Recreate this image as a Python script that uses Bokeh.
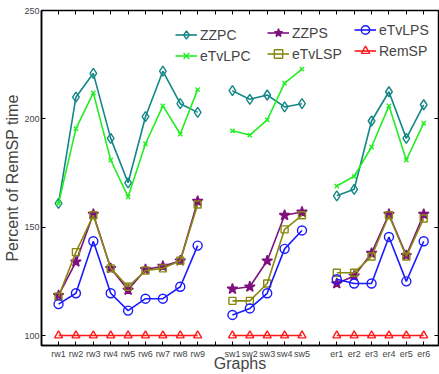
import numpy as np
from bokeh.plotting import figure
from bokeh.models import (FixedTicker, LinearAxis, Legend, LegendItem, Range1d)
from bokeh.embed import file_html
from bokeh.resources import INLINE

# ---- data ----
rw_labels = ["rw1", "rw2", "rw3", "rw4", "rw5", "rw6", "rw7", "rw8", "rw9"]
sw_labels = ["sw1", "sw2", "sw3", "sw4", "sw5"]
er_labels = ["er1", "er2", "er3", "er4", "er5", "er6"]

ZZPC_rw = [161, 210, 221, 191, 170.5, 201, 222, 207, 203]
ZZPC_sw = [213, 209, 211, 205.5, 207]
ZZPC_er = [164.5, 167.5, 199, 212.5, 191, 206.5]

eTvLPC_rw = [161, 195.5, 212, 181, 164, 188.5, 206, 193, 213.5]
eTvLPC_sw = [194.5, 192.5, 199.5, 216.5, 223]
eTvLPC_er = [169, 173.5, 187, 206, 181, 198]

ZZPS_rw = [118.5, 134, 156, 131, 121, 130.5, 132, 134.5, 162]
ZZPS_sw = [121.5, 122.5, 134.5, 155.5, 157]
ZZPS_er = [124, 127.5, 138, 156, 137, 156]

eTvLSP_rw = [118, 138.5, 155.5, 131, 122.5, 130, 131, 134.5, 160.5]
eTvLSP_sw = [116, 116, 124, 149, 155.5]
eTvLSP_er = [129, 129, 136.5, 155.5, 136.5, 154]

eTvLPS_rw = [114.5, 119.5, 143.5, 119.5, 111.5, 117, 117, 122.5, 141.5]
eTvLPS_sw = [109.5, 112.5, 119.5, 140, 148.5]
eTvLPS_er = [126, 124, 124, 145.5, 125, 143.5]

RemSP_rw = [100] * 9
RemSP_sw = [100] * 5
RemSP_er = [100] * 6

y_ticks = [100, 150, 200, 250]

# ---- positions: groups separated by one empty slot ----
groups = [rw_labels, sw_labels, er_labels]
labels = {}
pos = 1
for gi, g in enumerate(groups):
    for lab in g:
        labels[pos] = lab
        pos += 1
    if gi < len(groups) - 1:
        pos += 1
n_total = pos - 1
x_line = list(range(1, n_total + 1))


def join(a, b, c):
    # NaN at the gap slots breaks the lines between groups
    return a + [np.nan] + b + [np.nan] + c


font = "Liberation Sans"

p = figure(width=439, height=374, output_backend="svg", toolbar_location=None,
           x_range=Range1d(0.02, 22.85), y_range=Range1d(95.4, 250),
           min_border_left=41, min_border_right=1, min_border_top=10, min_border_bottom=29)
p.grid.visible = False
p.outline_line_color = "black"
p.outline_line_width = 1.5
p.background_fill_color = "white"

xa = p.xaxis[0]
xa.ticker = FixedTicker(ticks=list(range(1, n_total + 1)))
xa.major_label_overrides = {i: labels.get(i, "") for i in range(1, n_total + 1)}
xa.major_tick_in = 4
xa.major_tick_out = 0
xa.minor_tick_line_color = None
xa.axis_line_width = 1.5
xa.major_label_text_font = font
xa.major_label_text_font_size = "9px"
xa.major_label_standoff = 3
xa.axis_label = "Graphs"
xa.axis_label_text_font = font
xa.axis_label_text_font_style = "normal"
xa.axis_label_text_font_size = "16px"
xa.axis_label_standoff = -7

ya = p.yaxis[0]
ya.ticker = FixedTicker(ticks=y_ticks)
ya.major_tick_in = 4
ya.major_tick_out = 0
ya.minor_tick_line_color = None
ya.axis_line_width = 1.5
ya.major_label_text_font = font
ya.major_label_text_font_size = "9px"
ya.major_label_standoff = 2
ya.axis_label = "Percent of RemSP time"
ya.axis_label_text_font = font
ya.axis_label_text_font_style = "normal"
ya.axis_label_text_font_size = "16px"
ya.axis_label_standoff = 0

top = LinearAxis(ticker=FixedTicker(ticks=list(range(1, n_total + 1))),
                 major_tick_in=4, major_tick_out=0, minor_tick_line_color=None,
                 major_label_overrides={i: "" for i in range(1, n_total + 1)},
                 axis_line_color=None, major_label_standoff=0)
p.add_layout(top, "above")
right = LinearAxis(ticker=FixedTicker(ticks=y_ticks),
                   major_tick_in=4, major_tick_out=0, minor_tick_line_color=None,
                   major_label_overrides={t: "" for t in y_ticks},
                   axis_line_color=None, major_label_standoff=0)
p.add_layout(right, "right")

series = [
    ("ZZPC", join(ZZPC_rw, ZZPC_sw, ZZPC_er), "#138686", "diamond", 10, None),
    ("eTvLPC", join(eTvLPC_rw, eTvLPC_sw, eTvLPC_er), "#22ee22", "x", 6, None),
    ("ZZPS", join(ZZPS_rw, ZZPS_sw, ZZPS_er), "#7f117f", "star", 11, "#7f117f"),
    ("eTvLSP", join(eTvLSP_rw, eTvLSP_sw, eTvLSP_er), "#888811", "square", 7, None),
    ("eTvLPS", join(eTvLPS_rw, eTvLPS_sw, eTvLPS_er), "#1a1aff", "circle", 9, None),
    ("RemSP", join(RemSP_rw, RemSP_sw, RemSP_er), "#ff1a1a", "triangle", 8, None),
]

items = {}
for name, ys, col, mk, sz, fill in series:
    r1 = p.line(x_line, ys, line_color=col, line_width=1.6)
    r2 = p.scatter(x_line, ys, marker=mk, size=sz, line_color=col, line_width=1.4,
                   fill_color=fill if fill else "white", fill_alpha=1 if fill else 0)
    items[name] = LegendItem(label=name, renderers=[r1, r2])


def make_legend(names, loc):
    lg = Legend(items=[items[n] for n in names], location=loc,
                border_line_color=None, background_fill_alpha=0,
                padding=0, margin=0, spacing=0,
                glyph_width=22, glyph_height=21, label_height=21,
                label_standoff=3, label_text_font=font,
                label_text_font_size="14px")
    p.add_layout(lg, "center")


make_legend(["ZZPC", "eTvLPC"], (134, 279))
make_legend(["ZZPS", "eTvLSP"], (226, 281))
make_legend(["eTvLPS", "RemSP"], (313, 284))

open("out.html", "w").write(file_html(p, INLINE))
